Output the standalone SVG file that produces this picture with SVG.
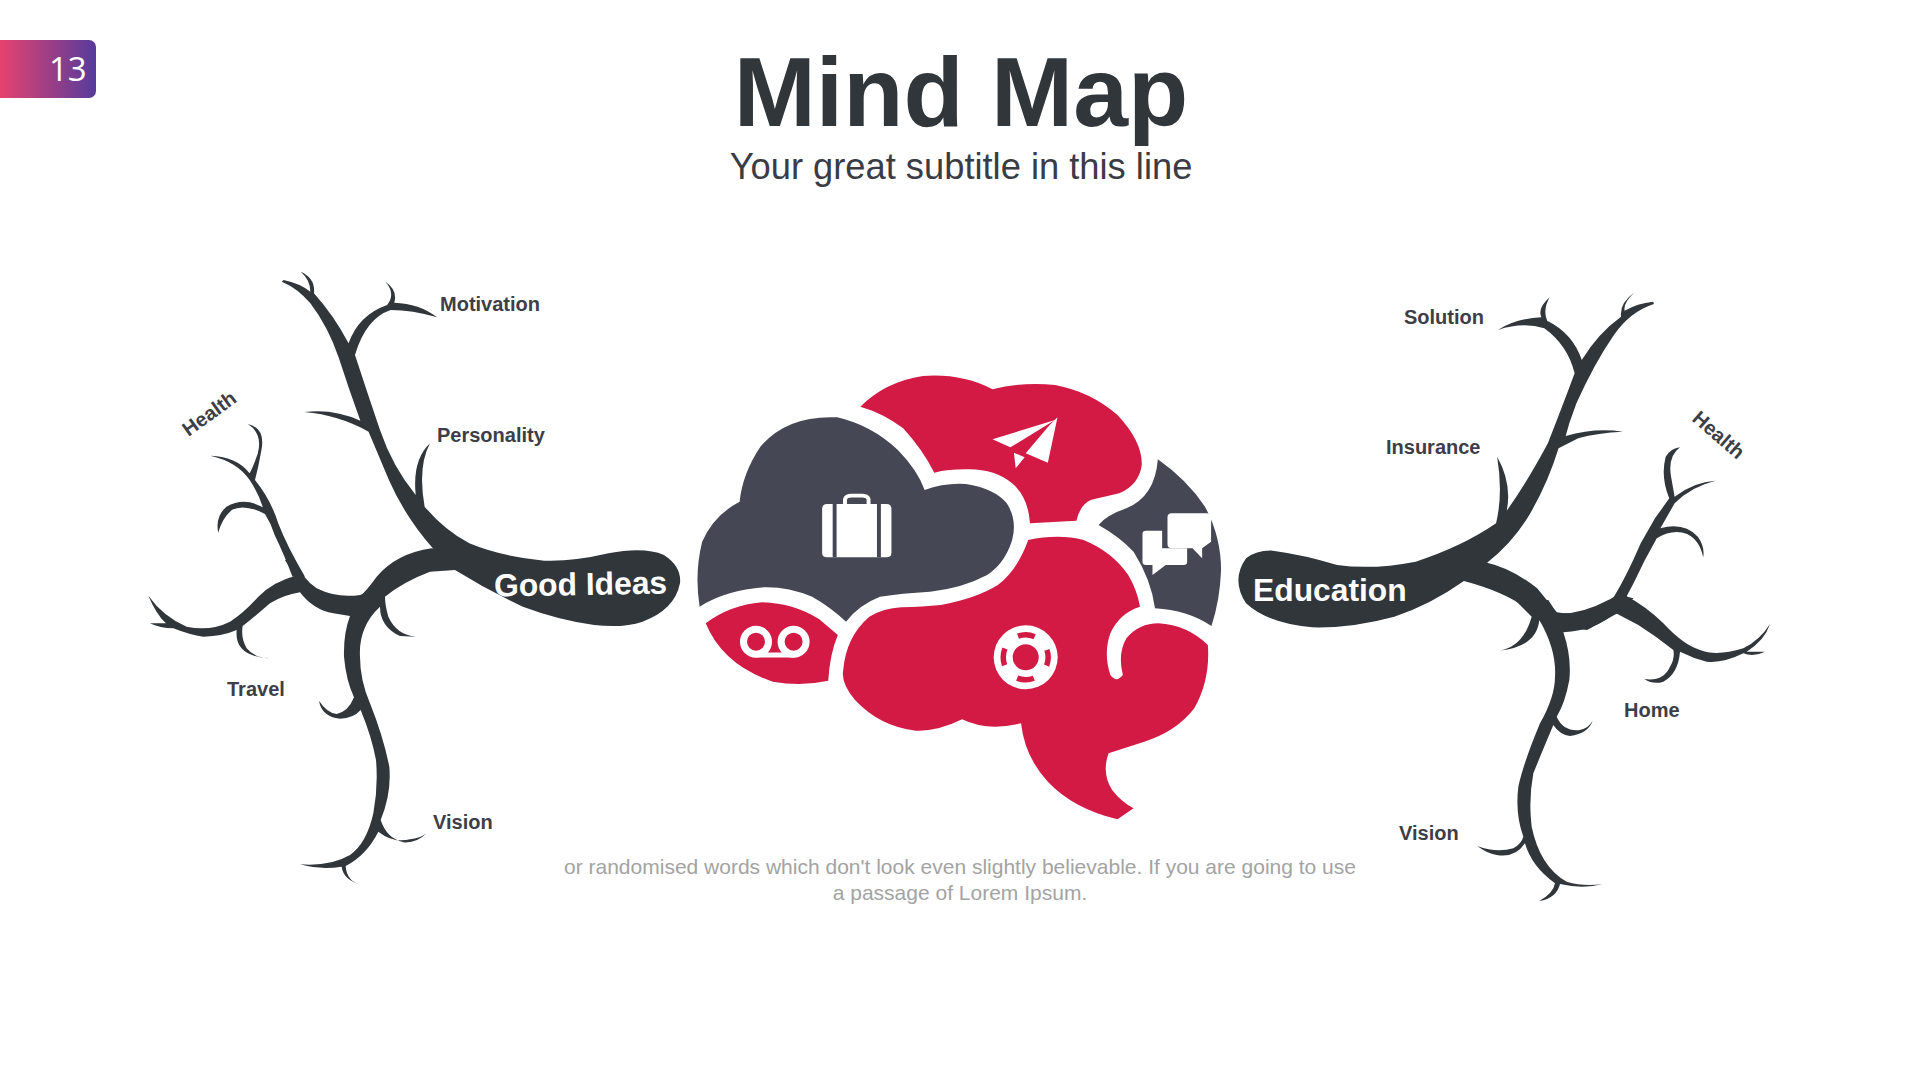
<svg xmlns="http://www.w3.org/2000/svg" width="1920" height="1080" viewBox="0 0 1920 1080">
<style>
.tree{fill:#31363b}
.red{fill:#d21a45}
.dark{fill:#454854}
.w{fill:#fff}
.lab{font-family:"Liberation Sans",Arial,sans-serif;font-weight:700;font-size:20px;fill:#3d3e48}
.hub{font-family:"Liberation Sans",Arial,sans-serif;font-weight:700;font-size:31.8px;fill:#fff}
.body{font-family:"Liberation Sans",Arial,sans-serif;font-size:21px;fill:#a3a3a3;text-anchor:middle}
</style>
<defs>
<linearGradient id="bg" x1="0" x2="1" y1="0" y2="0"><stop offset="0" stop-color="#e6436f"/><stop offset="1" stop-color="#563b9c"/></linearGradient>
</defs>
<rect width="1920" height="1080" fill="#fff"/>
<g id="badge"><path d="M0 40H89a7 7 0 0 1 7 7V91a7 7 0 0 1-7 7H0Z" fill="url(#bg)"/>
<text x="49" y="81" font-family="Open Sans,sans-serif" font-size="33" fill="#fff">13</text></g>
<g id="title"><text x="961" y="126" text-anchor="middle" font-family="Liberation Sans,Arial,sans-serif" font-weight="700" font-size="98.6" fill="#31363b">Mind Map</text>
<text x="961" y="179" text-anchor="middle" font-family="Liberation Sans,Arial,sans-serif" font-size="36.3" fill="#3a3b45">Your great subtitle in this line</text></g>

<g id="tree-left">
<g transform="translate(130 260) scale(.35714 .33333)" class="tree">
<path d="M848 865Q770 770 725 660L668 515Q585 465 488 456Q570 445 645 482Q612 385 585 295Q555 200 505 130Q470 85 425 65L430 60Q475 70 505 95Q505 60 478 35Q520 55 515 100Q570 165 612 250Q640 165 720 135Q745 100 715 65Q750 90 740 128Q810 130 860 172Q790 150 730 150Q660 175 630 285Q665 400 700 510Q735 620 800 705Q790 600 840 550Q805 620 825 740Q880 810 950 850Q1040 890 1160 902Q1240 905 1340 880Q1440 860 1495 885Q1545 920 1540 970Q1525 1050 1435 1085Q1380 1105 1300 1095Q1200 1080 1100 1040Q1000 990 910 930Z"/>
<path d="M350 660Q395 720 415 790Q440 860 490 950L455 950Q430 880 405 825Q395 790 378 762Q320 730 285 750Q258 775 247 818Q238 770 270 740Q320 710 372 742Q360 700 335 660Q300 605 225 587Q300 590 335 640Q345 620 358 580Q372 520 330 492Q380 505 368 570Q360 620 350 660Z"/>
</g>
<g transform="translate(130 560) scale(.33333)" class="tree">
<path d="M465 0L495 48Q430 65 385 110Q340 160 300 185Q240 215 170 200Q100 170 55 107Q80 165 108 190L60 190Q90 205 130 205Q180 225 220 230Q280 228 320 210Q312 290 420 295Q375 295 350 265Q332 235 338 198Q380 165 420 130Q460 105 510 97Q550 150 610 160Q640 165 660 168Q640 220 642 290Q648 360 672 412Q655 455 620 462Q590 458 567 422Q575 470 630 476Q670 475 692 450Q725 530 738 600Q745 680 730 760Q710 850 660 885Q600 920 510 913Q570 930 635 920Q640 960 695 975Q650 965 647 918Q710 885 745 815Q790 850 840 838Q870 835 890 820Q860 850 820 847Q770 835 752 780Q785 700 778 620Q760 530 720 430Q690 360 690 290Q685 200 750 140Q750 200 810 228L858 230Q800 225 775 170Q765 135 765 110Q820 65 900 35L975 30L1000-20L905-35Q800-20 740 50Q700 105 690 105Q620 115 560 85Q520 60 495 0Z"/>
</g>
<text class="hub" x="494" y="595" transform="rotate(-1 580 585)">Good Ideas</text>
<text class="lab" x="440" y="311">Motivation</text>
<text class="lab" x="437" y="442">Personality</text>
<text class="lab" transform="translate(188.500 437) rotate(-36)">Health</text>
<text class="lab" x="227" y="696">Travel</text>
<text class="lab" x="433" y="829">Vision</text>
</g>

<g id="tree-right">
<g transform="translate(1230 280) scale(.35714 .33333)" class="tree">
<path d="M120 812Q210 825 300 855Q400 870 520 845Q650 800 745 730Q765 640 748 530Q790 610 775 692Q830 610 890 490Q925 395 965 280Q945 195 880 145Q820 125 750 150Q800 115 872 112Q860 85 895 52Q875 90 888 122Q960 160 985 240Q1030 160 1095 110Q1090 70 1133 37Q1100 70 1105 92Q1140 70 1185 65L1187 72Q1120 95 1075 165Q1020 250 970 370L950 430L940 468Q1020 443 1100 455Q1030 458 975 475L920 505Q890 610 838 705Q790 790 720 848Q790 865 860 925L915 997Q990 1010 1040 975L1075 950Q1110 890 1150 790L1190 715L1230 655Q1205 590 1220 530Q1235 505 1260 502Q1225 530 1235 590L1245 650Q1300 605 1360 602Q1290 620 1245 670L1205 745Q1270 725 1310 770Q1330 800 1325 832Q1315 780 1280 762Q1240 745 1195 775Q1160 840 1130 910L1110 950L1130 955L1085 1000L1000 1050L877 1035Q820 950 655 903Q560 975 460 1010Q340 1045 230 1042Q105 1030 45 970Q2 900 45 835Q75 810 120 812Z"/>
</g>
<g transform="translate(1400 600) scale(.33333)" class="tree">
<path d="M625 0L674-15Q740 20 790 70Q850 135 900 150Q950 170 1030 145Q1080 120 1110 72Q1095 120 1040 155L1095 155Q1060 172 1030 160Q970 190 920 185Q880 175 840 155Q835 220 790 245Q760 255 733 237Q790 245 810 200Q825 175 820 150Q770 110 715 75L645 38Q590 90 490 97Q515 170 508 240Q495 310 470 350Q490 395 540 390Q565 385 578 362Q565 400 510 408Q480 405 460 375Q420 470 400 520Q385 600 395 680Q420 800 500 845Q550 860 608 852Q550 868 480 852Q470 895 418 903Q460 880 465 850Q395 800 375 730Q345 775 290 765Q260 760 232 738Q290 760 340 745Q365 730 370 710Q345 640 355 560Q370 490 420 370Q465 290 465 230Q470 150 418 60Q410 140 298 152Q370 140 395 50L345 0L445 0L470 40Q540 45 625 0Z"/>
</g>
<text class="hub" x="1253" y="601">Education</text>
<text class="lab" x="1404" y="324">Solution</text>
<text class="lab" x="1386" y="454">Insurance</text>
<text class="lab" transform="translate(1691 420) rotate(41)">Health</text>
<text class="lab" x="1624" y="717">Home</text>
<text class="lab" x="1399" y="840">Vision</text>
</g>

<g id="brain">
<g transform="translate(680 360) scale(.35714 .33333)">
<path class="dark" d="M55 740Q40 640 62 545Q95 465 167 425Q175 340 225 260Q300 165 440 172Q535 195 610 270Q665 330 685 390Q740 368 800 372Q880 385 915 430Q945 480 930 540Q910 610 860 645Q790 685 700 695Q620 700 560 710Q500 735 465 785Q420 740 370 710Q300 680 235 682Q130 690 55 740Z"/>
<path class="red" d="M505 140Q575 65 680 48Q790 40 875 88Q960 65 1050 75Q1150 95 1225 165Q1295 245 1293 315Q1285 375 1230 400Q1180 412 1150 420Q1120 435 1110 482L980 490Q975 410 930 370Q880 325 800 328Q750 328 712 338Q680 270 625 205Q570 160 505 140Z"/>
<path class="dark" d="M1338 298Q1420 360 1470 440Q1515 530 1515 630Q1512 720 1488 798Q1420 750 1330 745Q1320 660 1270 575Q1230 530 1172 495Q1195 465 1250 445Q1330 410 1338 298Z"/>
<path class="red" d="M72 790Q140 735 230 727Q320 730 390 778L442 825Q420 880 415 962Q340 980 260 965Q120 915 72 790Z"/>
<path class="red" d="M975 540Q1060 520 1130 540Q1210 575 1255 645Q1280 690 1288 740Q1230 760 1205 820Q1185 880 1205 945Q1222 970 1240 945Q1225 880 1250 835Q1285 790 1340 790Q1420 795 1478 855Q1485 960 1440 1045Q1390 1115 1300 1145L1200 1180Q1180 1240 1210 1290Q1235 1325 1270 1345L1225 1378Q1100 1345 1030 1265Q965 1190 955 1090Q860 1115 790 1078Q720 1115 660 1112Q560 1100 490 1020Q450 970 457 930Q465 830 530 770Q570 745 620 742Q680 740 730 735Q830 715 890 675Q945 630 975 540Z"/>
<path class="w" d="M412 432H578Q592 432 592 446V578Q592 592 578 592H412Q398 592 398 578V446Q398 432 412 432Z"/>
<path d="M433 432V592M557 432V592" stroke="#454854" stroke-width="11" fill="none"/>
<path d="M462 432V418Q465 407 480 407H510Q525 407 528 418V432" stroke="#fff" stroke-width="11" fill="none"/>
<path class="w" d="M875 238L1050 180L925 262ZM1057 172L1030 308L968 280L1035 195ZM935 278L965 292L940 325Z"/>
<path class="w" d="M1305 512H1350V565H1420V605Q1420 615 1410 615H1360L1323 645V615H1305Q1295 615 1295 605V522Q1295 512 1305 512Z"/>
<path class="w" d="M1377 460H1475Q1487 460 1487 472V545L1462 565V595L1435 565H1377Q1365 565 1365 553V472Q1365 460 1377 460Z"/>
</g>
<circle cx="1025.7" cy="657.3" r="32" class="w"/>
<circle cx="1025.7" cy="657.3" r="22.5" fill="none" stroke="#d21a45" stroke-width="5.5" stroke-dasharray="17 18.34" stroke-dashoffset="8.5"/>
<circle cx="1025.7" cy="657.3" r="13" class="red"/>
<g fill="none" stroke="#fff"><circle cx="756" cy="641.7" r="12.5" stroke-width="7"/><circle cx="793.6" cy="641.7" r="12.5" stroke-width="7"/><path d="M756 655H794" stroke-width="5"/></g>
</g>

<g id="note"><text class="body" x="960" y="874">or randomised words which don't look even slightly believable. If you are going to use</text>
<text class="body" x="960" y="900">a passage of Lorem Ipsum.</text></g>
</svg>
